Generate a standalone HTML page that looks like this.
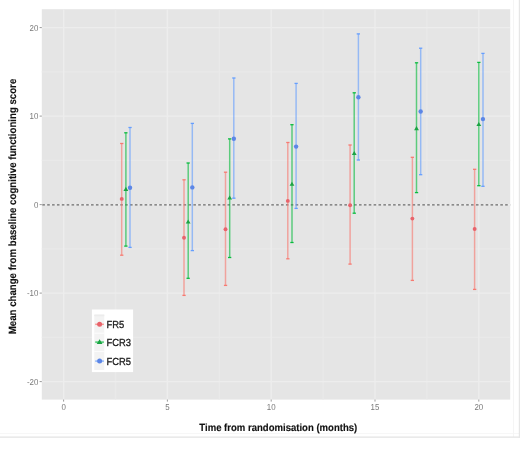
<!DOCTYPE html><html><head><meta charset="utf-8"><style>html,body{margin:0;padding:0;background:#fff;}svg{display:block;filter:blur(0.35px);}</style></head><body>
<svg width="520" height="452" viewBox="0 0 520 452" font-family="Liberation Sans, sans-serif" text-rendering="geometricPrecision">
<rect width="520" height="452" fill="#fff"/>
<line x1="0" y1="433.5" x2="520" y2="433.5" stroke="#f7f7f7" stroke-width="1"/>
<line x1="513.5" y1="0" x2="513.5" y2="437" stroke="#f5f5f5" stroke-width="1"/>
<line x1="0" y1="437.1" x2="520" y2="437.1" stroke="#e3e3e3" stroke-width="1.4"/>
<line x1="519.4" y1="0" x2="519.4" y2="437.8" stroke="#e6e6e6" stroke-width="1.2"/>
<rect x="41.8" y="9.2" width="468.4" height="390.4" fill="#e5e5e5"/>
<line x1="41.8" y1="337.4" x2="510.2" y2="337.4" stroke="#e9e9e9" stroke-width="1.3"/>
<line x1="41.8" y1="248.8" x2="510.2" y2="248.8" stroke="#e9e9e9" stroke-width="1.3"/>
<line x1="41.8" y1="160.3" x2="510.2" y2="160.3" stroke="#e9e9e9" stroke-width="1.3"/>
<line x1="41.8" y1="71.8" x2="510.2" y2="71.8" stroke="#e9e9e9" stroke-width="1.3"/>
<line x1="115.5" y1="9.2" x2="115.5" y2="399.6" stroke="#e9e9e9" stroke-width="1.3"/>
<line x1="219.3" y1="9.2" x2="219.3" y2="399.6" stroke="#e9e9e9" stroke-width="1.3"/>
<line x1="323.1" y1="9.2" x2="323.1" y2="399.6" stroke="#e9e9e9" stroke-width="1.3"/>
<line x1="426.9" y1="9.2" x2="426.9" y2="399.6" stroke="#e9e9e9" stroke-width="1.3"/>
<line x1="41.8" y1="381.6" x2="510.2" y2="381.6" stroke="#ededed" stroke-width="1.4"/>
<line x1="41.8" y1="293.1" x2="510.2" y2="293.1" stroke="#ededed" stroke-width="1.4"/>
<line x1="41.8" y1="204.6" x2="510.2" y2="204.6" stroke="#ededed" stroke-width="1.4"/>
<line x1="41.8" y1="116.1" x2="510.2" y2="116.1" stroke="#ededed" stroke-width="1.4"/>
<line x1="41.8" y1="27.6" x2="510.2" y2="27.6" stroke="#ededed" stroke-width="1.4"/>
<line x1="63.6" y1="9.2" x2="63.6" y2="399.6" stroke="#ededed" stroke-width="1.4"/>
<line x1="167.4" y1="9.2" x2="167.4" y2="399.6" stroke="#ededed" stroke-width="1.4"/>
<line x1="271.2" y1="9.2" x2="271.2" y2="399.6" stroke="#ededed" stroke-width="1.4"/>
<line x1="375.0" y1="9.2" x2="375.0" y2="399.6" stroke="#ededed" stroke-width="1.4"/>
<line x1="478.8" y1="9.2" x2="478.8" y2="399.6" stroke="#ededed" stroke-width="1.4"/>
<line x1="42.31" y1="204.9" x2="510.2" y2="204.9" stroke="#6a6a6a" stroke-width="1.25" stroke-dasharray="2.6 2.272"/>
<line x1="121.7" y1="143.5" x2="121.7" y2="255.2" stroke="#F8766D" stroke-width="1.5" opacity="0.6"/>
<g stroke="#F8766D" stroke-width="1.3" opacity="0.95"><line x1="120.1" y1="143.5" x2="123.4" y2="143.5"/><line x1="120.1" y1="255.2" x2="123.4" y2="255.2"/></g>
<line x1="125.9" y1="132.8" x2="125.9" y2="246.1" stroke="#00BA38" stroke-width="1.5" opacity="0.6"/>
<g stroke="#00BA38" stroke-width="1.3" opacity="0.95"><line x1="124.2" y1="132.8" x2="127.5" y2="132.8"/><line x1="124.2" y1="246.1" x2="127.5" y2="246.1"/></g>
<line x1="130.0" y1="127.5" x2="130.0" y2="247.4" stroke="#619CFF" stroke-width="1.5" opacity="0.6"/>
<g stroke="#619CFF" stroke-width="1.3" opacity="0.95"><line x1="128.4" y1="127.5" x2="131.7" y2="127.5"/><line x1="128.4" y1="247.4" x2="131.7" y2="247.4"/></g>
<line x1="184.0" y1="179.8" x2="184.0" y2="295.4" stroke="#F8766D" stroke-width="1.5" opacity="0.6"/>
<g stroke="#F8766D" stroke-width="1.3" opacity="0.95"><line x1="182.4" y1="179.8" x2="185.7" y2="179.8"/><line x1="182.4" y1="295.4" x2="185.7" y2="295.4"/></g>
<line x1="188.2" y1="163.0" x2="188.2" y2="278.3" stroke="#00BA38" stroke-width="1.5" opacity="0.6"/>
<g stroke="#00BA38" stroke-width="1.3" opacity="0.95"><line x1="186.5" y1="163.0" x2="189.8" y2="163.0"/><line x1="186.5" y1="278.3" x2="189.8" y2="278.3"/></g>
<line x1="192.3" y1="123.4" x2="192.3" y2="250.6" stroke="#619CFF" stroke-width="1.5" opacity="0.6"/>
<g stroke="#619CFF" stroke-width="1.3" opacity="0.95"><line x1="190.7" y1="123.4" x2="194.0" y2="123.4"/><line x1="190.7" y1="250.6" x2="194.0" y2="250.6"/></g>
<line x1="225.5" y1="172.2" x2="225.5" y2="285.4" stroke="#F8766D" stroke-width="1.5" opacity="0.6"/>
<g stroke="#F8766D" stroke-width="1.3" opacity="0.95"><line x1="223.9" y1="172.2" x2="227.2" y2="172.2"/><line x1="223.9" y1="285.4" x2="227.2" y2="285.4"/></g>
<line x1="229.7" y1="138.9" x2="229.7" y2="257.5" stroke="#00BA38" stroke-width="1.5" opacity="0.6"/>
<g stroke="#00BA38" stroke-width="1.3" opacity="0.95"><line x1="228.0" y1="138.9" x2="231.3" y2="138.9"/><line x1="228.0" y1="257.5" x2="231.3" y2="257.5"/></g>
<line x1="233.8" y1="78.0" x2="233.8" y2="198.2" stroke="#619CFF" stroke-width="1.5" opacity="0.6"/>
<g stroke="#619CFF" stroke-width="1.3" opacity="0.95"><line x1="232.2" y1="78.0" x2="235.5" y2="78.0"/><line x1="232.2" y1="198.2" x2="235.5" y2="198.2"/></g>
<line x1="287.8" y1="142.5" x2="287.8" y2="258.8" stroke="#F8766D" stroke-width="1.5" opacity="0.6"/>
<g stroke="#F8766D" stroke-width="1.3" opacity="0.95"><line x1="286.2" y1="142.5" x2="289.5" y2="142.5"/><line x1="286.2" y1="258.8" x2="289.5" y2="258.8"/></g>
<line x1="292.0" y1="124.7" x2="292.0" y2="242.5" stroke="#00BA38" stroke-width="1.5" opacity="0.6"/>
<g stroke="#00BA38" stroke-width="1.3" opacity="0.95"><line x1="290.3" y1="124.7" x2="293.6" y2="124.7"/><line x1="290.3" y1="242.5" x2="293.6" y2="242.5"/></g>
<line x1="296.1" y1="83.4" x2="296.1" y2="208.4" stroke="#619CFF" stroke-width="1.5" opacity="0.6"/>
<g stroke="#619CFF" stroke-width="1.3" opacity="0.95"><line x1="294.5" y1="83.4" x2="297.8" y2="83.4"/><line x1="294.5" y1="208.4" x2="297.8" y2="208.4"/></g>
<line x1="350.1" y1="145.0" x2="350.1" y2="264.1" stroke="#F8766D" stroke-width="1.5" opacity="0.6"/>
<g stroke="#F8766D" stroke-width="1.3" opacity="0.95"><line x1="348.4" y1="145.0" x2="351.7" y2="145.0"/><line x1="348.4" y1="264.1" x2="351.7" y2="264.1"/></g>
<line x1="354.2" y1="92.8" x2="354.2" y2="213.2" stroke="#00BA38" stroke-width="1.5" opacity="0.6"/>
<g stroke="#00BA38" stroke-width="1.3" opacity="0.95"><line x1="352.6" y1="92.8" x2="355.9" y2="92.8"/><line x1="352.6" y1="213.2" x2="355.9" y2="213.2"/></g>
<line x1="358.4" y1="33.9" x2="358.4" y2="160.0" stroke="#619CFF" stroke-width="1.5" opacity="0.6"/>
<g stroke="#619CFF" stroke-width="1.3" opacity="0.95"><line x1="356.7" y1="33.9" x2="360.0" y2="33.9"/><line x1="356.7" y1="160.0" x2="360.0" y2="160.0"/></g>
<line x1="412.4" y1="157.3" x2="412.4" y2="280.4" stroke="#F8766D" stroke-width="1.5" opacity="0.6"/>
<g stroke="#F8766D" stroke-width="1.3" opacity="0.95"><line x1="410.7" y1="157.3" x2="414.0" y2="157.3"/><line x1="410.7" y1="280.4" x2="414.0" y2="280.4"/></g>
<line x1="416.5" y1="62.8" x2="416.5" y2="192.6" stroke="#00BA38" stroke-width="1.5" opacity="0.6"/>
<g stroke="#00BA38" stroke-width="1.3" opacity="0.95"><line x1="414.9" y1="62.8" x2="418.2" y2="62.8"/><line x1="414.9" y1="192.6" x2="418.2" y2="192.6"/></g>
<line x1="420.7" y1="48.2" x2="420.7" y2="174.7" stroke="#619CFF" stroke-width="1.5" opacity="0.6"/>
<g stroke="#619CFF" stroke-width="1.3" opacity="0.95"><line x1="419.0" y1="48.2" x2="422.3" y2="48.2"/><line x1="419.0" y1="174.7" x2="422.3" y2="174.7"/></g>
<line x1="474.6" y1="169.3" x2="474.6" y2="289.4" stroke="#F8766D" stroke-width="1.5" opacity="0.6"/>
<g stroke="#F8766D" stroke-width="1.3" opacity="0.95"><line x1="473.0" y1="169.3" x2="476.3" y2="169.3"/><line x1="473.0" y1="289.4" x2="476.3" y2="289.4"/></g>
<line x1="478.8" y1="62.4" x2="478.8" y2="185.7" stroke="#00BA38" stroke-width="1.5" opacity="0.6"/>
<g stroke="#00BA38" stroke-width="1.3" opacity="0.95"><line x1="477.2" y1="62.4" x2="480.5" y2="62.4"/><line x1="477.2" y1="185.7" x2="480.5" y2="185.7"/></g>
<line x1="483.0" y1="53.4" x2="483.0" y2="186.3" stroke="#619CFF" stroke-width="1.5" opacity="0.6"/>
<g stroke="#619CFF" stroke-width="1.3" opacity="0.95"><line x1="481.3" y1="53.4" x2="484.6" y2="53.4"/><line x1="481.3" y1="186.3" x2="484.6" y2="186.3"/></g>
<circle cx="121.73" cy="198.9" r="1.95" fill="#E8636B"/>
<path d="M125.88 186.78 L128.29 190.88 L123.46 190.88 Z" fill="#1BA343"/>
<circle cx="130.03" cy="187.8" r="2.2" fill="#5C86E6"/>
<circle cx="184.01" cy="237.7" r="1.95" fill="#E8636B"/>
<path d="M188.16 219.49 L190.57 223.58 L185.75 223.58 Z" fill="#1BA343"/>
<circle cx="192.31" cy="187.4" r="2.2" fill="#5C86E6"/>
<circle cx="225.53" cy="229.2" r="1.95" fill="#E8636B"/>
<path d="M229.68 195.49 L232.09 199.58 L227.27 199.58 Z" fill="#1BA343"/>
<circle cx="233.83" cy="138.7" r="2.2" fill="#5C86E6"/>
<circle cx="287.81" cy="200.9" r="1.95" fill="#E8636B"/>
<path d="M291.96 181.69 L294.38 185.78 L289.55 185.78 Z" fill="#1BA343"/>
<circle cx="296.11" cy="146.6" r="2.2" fill="#5C86E6"/>
<circle cx="350.09" cy="205.2" r="1.95" fill="#E8636B"/>
<path d="M354.24 150.99 L356.66 155.08 L351.83 155.08 Z" fill="#1BA343"/>
<circle cx="358.39" cy="97.3" r="2.2" fill="#5C86E6"/>
<circle cx="412.37" cy="218.6" r="1.95" fill="#E8636B"/>
<path d="M416.52 126.08 L418.94 130.18 L414.11 130.18 Z" fill="#1BA343"/>
<circle cx="420.67" cy="111.5" r="2.2" fill="#5C86E6"/>
<circle cx="474.65" cy="229.0" r="1.95" fill="#E8636B"/>
<path d="M478.80 121.98 L481.22 126.08 L476.39 126.08 Z" fill="#1BA343"/>
<circle cx="482.95" cy="119.1" r="2.2" fill="#5C86E6"/>
<line x1="39.6" y1="381.6" x2="41.8" y2="381.6" stroke="#999" stroke-width="1"/>
<text transform="translate(38.4 384.7) scale(0.92,1)" font-size="8.6" fill="#7a7a7a" text-anchor="end">-20</text>
<line x1="39.6" y1="293.1" x2="41.8" y2="293.1" stroke="#999" stroke-width="1"/>
<text transform="translate(38.4 296.2) scale(0.92,1)" font-size="8.6" fill="#7a7a7a" text-anchor="end">-10</text>
<line x1="39.6" y1="204.6" x2="41.8" y2="204.6" stroke="#999" stroke-width="1"/>
<text transform="translate(38.4 207.7) scale(0.92,1)" font-size="8.6" fill="#7a7a7a" text-anchor="end">0</text>
<line x1="39.6" y1="116.1" x2="41.8" y2="116.1" stroke="#999" stroke-width="1"/>
<text transform="translate(38.4 119.2) scale(0.92,1)" font-size="8.6" fill="#7a7a7a" text-anchor="end">10</text>
<line x1="39.6" y1="27.6" x2="41.8" y2="27.6" stroke="#999" stroke-width="1"/>
<text transform="translate(38.4 30.7) scale(0.92,1)" font-size="8.6" fill="#7a7a7a" text-anchor="end">20</text>
<line x1="63.6" y1="399.6" x2="63.6" y2="401.6" stroke="#999" stroke-width="1"/>
<text transform="translate(63.6 410.1) scale(0.92,1)" font-size="8.6" fill="#7a7a7a" text-anchor="middle">0</text>
<line x1="167.4" y1="399.6" x2="167.4" y2="401.6" stroke="#999" stroke-width="1"/>
<text transform="translate(167.4 410.1) scale(0.92,1)" font-size="8.6" fill="#7a7a7a" text-anchor="middle">5</text>
<line x1="271.2" y1="399.6" x2="271.2" y2="401.6" stroke="#999" stroke-width="1"/>
<text transform="translate(271.2 410.1) scale(0.92,1)" font-size="8.6" fill="#7a7a7a" text-anchor="middle">10</text>
<line x1="375.0" y1="399.6" x2="375.0" y2="401.6" stroke="#999" stroke-width="1"/>
<text transform="translate(375.0 410.1) scale(0.92,1)" font-size="8.6" fill="#7a7a7a" text-anchor="middle">15</text>
<line x1="478.8" y1="399.6" x2="478.8" y2="401.6" stroke="#999" stroke-width="1"/>
<text transform="translate(478.8 410.1) scale(0.92,1)" font-size="8.6" fill="#7a7a7a" text-anchor="middle">20</text>
<text transform="translate(278.3 430.7) scale(0.92,1)" font-size="10.38" font-weight="bold" fill="#111" stroke="#111" stroke-width="0.15" text-anchor="middle">Time from randomisation (months)</text>
<text transform="translate(15.9 206.5) rotate(-90) scale(0.92,1)" font-size="10.51" font-weight="bold" fill="#111" stroke="#111" stroke-width="0.15" text-anchor="middle">Mean change from baseline cognitive functioning score</text>
<rect x="91.9" y="309.5" width="41.2" height="62.6" fill="#fff"/>
<rect x="94.3" y="314.6" width="10.0" height="55.4" fill="#f3f3f3"/>
<rect x="94.3" y="314.6" width="10.0" height="1.6" fill="#ececec"/>
<line x1="94.3" y1="333.2" x2="104.3" y2="333.2" stroke="#fff" stroke-width="0.8"/>
<line x1="94.3" y1="351.6" x2="104.3" y2="351.6" stroke="#fff" stroke-width="0.8"/>
<line x1="95.2" y1="324.3" x2="103.9" y2="324.3" stroke="#F8766D" stroke-width="1.5" opacity="0.7"/>
<circle cx="99.60" cy="324.3" r="2.5" fill="#E8636B"/>
<text transform="translate(106.5 327.8) scale(0.92,1)" font-size="10.22" fill="#1a1a1a" stroke="#1a1a1a" stroke-width="0.3">FR5</text>
<line x1="95.2" y1="342.1" x2="103.9" y2="342.1" stroke="#00BA38" stroke-width="1.5" opacity="0.7"/>
<path d="M99.60 339.23 L102.47 344.10 L96.72 344.10 Z" fill="#1BA343"/>
<text transform="translate(106.5 345.6) scale(0.92,1)" font-size="10.22" fill="#1a1a1a" stroke="#1a1a1a" stroke-width="0.3">FCR3</text>
<line x1="95.2" y1="361.1" x2="103.9" y2="361.1" stroke="#619CFF" stroke-width="1.5" opacity="0.7"/>
<circle cx="99.60" cy="361.1" r="2.5" fill="#5C86E6"/>
<text transform="translate(106.5 364.6) scale(0.92,1)" font-size="10.22" fill="#1a1a1a" stroke="#1a1a1a" stroke-width="0.3">FCR5</text>
</svg></body></html>
